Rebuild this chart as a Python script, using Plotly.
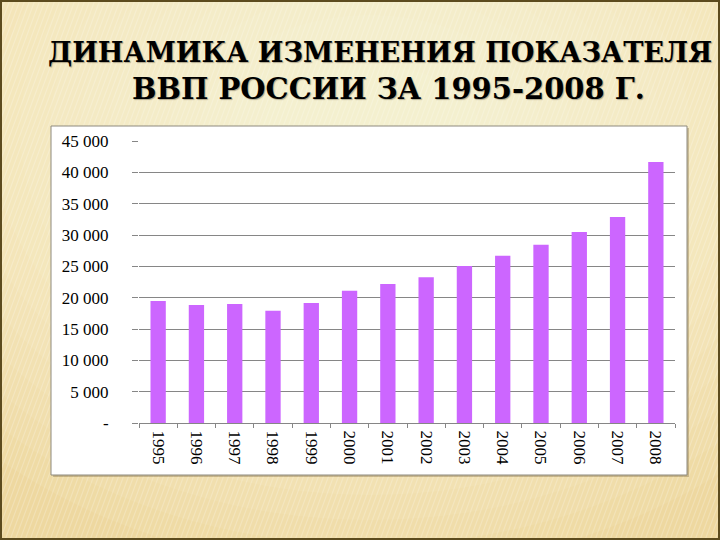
import plotly.graph_objects as go

years = ["1995", "1996", "1997", "1998", "1999", "2000", "2001",
         "2002", "2003", "2004", "2005", "2006", "2007", "2008"]
gdp = [19470, 18830, 18990, 17920, 19150, 21110, 22180,
       23250, 25050, 26700, 28450, 30470, 32870, 41650]
ytick_vals = [0, 5000, 10000, 15000, 20000, 25000, 30000, 35000, 40000, 45000]
ytick_text = ["-", "5 000", "10 000", "15 000", "20 000", "25 000",
              "30 000", "35 000", "40 000", "45 000"]
title_line1 = "ДИНАМИКА ИЗМЕНЕНИЯ ПОКАЗАТЕЛЯ"
title_line2 = "ВВП РОССИИ ЗА 1995-2008 Г."

W, H = 720, 540
L, R, T, B = 139, 675, 141, 423


def px(x):
    return (x - L) / (R - L)


def py(y):
    return (B - y) / (B - T)


shapes = []
# soft light glow in background (concentric translucent ellipses)
for i in range(16):
    rx = 560 - i * 30
    ry = 440 - i * 25
    cx, cy = 370, 130
    shapes.append(dict(type="circle", xref="paper", yref="paper",
                       x0=px(cx - rx), x1=px(cx + rx), y0=py(cy + ry), y1=py(cy - ry),
                       fillcolor="#FFF9E2", opacity=0.08, line=dict(width=0), layer="below"))
# faint diagonal stripe texture
segs = []
for x in range(-200, 760, 5):
    segs.append(f"M{px(x):.4f},{py(540):.4f} L{px(x + 200):.4f},{py(0):.4f}")
shapes.append(dict(type="path", xref="paper", yref="paper", path=" ".join(segs),
                   line=dict(color="rgba(255,255,255,0.22)", width=1.2), layer="below"))
# slide border
shapes.append(dict(type="rect", xref="paper", yref="paper",
                   x0=px(1), x1=px(719), y0=py(539), y1=py(1),
                   line=dict(color="#5C4B1E", width=2), fillcolor="rgba(0,0,0,0)", layer="above"))
# chart box shadow + box
shapes.append(dict(type="rect", xref="paper", yref="paper",
                   x0=px(53), x1=px(689), y0=py(477), y1=py(128),
                   line=dict(width=0), fillcolor="rgba(120,100,60,0.35)", layer="below"))
shapes.append(dict(type="rect", xref="paper", yref="paper",
                   x0=px(51), x1=px(687), y0=py(475), y1=py(126),
                   line=dict(color="#8E8A7E", width=1), fillcolor="white", layer="below"))

fig = go.Figure(go.Bar(x=years, y=gdp, marker=dict(color="#CC66FF", line=dict(width=0)),
                       width=0.4))

shadow = "1px 1px 1px rgba(90,80,60,0.45)"
annotations = [
    dict(text=title_line1, xref="paper", yref="paper", x=px(46), y=py(52),
         xanchor="left", yanchor="middle", showarrow=False,
         font=dict(family="DejaVu Serif", size=27.2, color="black", weight="bold", shadow=shadow)),
    dict(text=title_line2, xref="paper", yref="paper", x=px(388), y=py(89),
         xanchor="center", yanchor="middle", showarrow=False,
         font=dict(family="DejaVu Serif", size=29, color="black", weight="bold", shadow=shadow)),
]

fig.update_layout(
    width=W, height=H,
    margin=dict(l=L, r=W - R, t=T, b=H - B, pad=0),
    paper_bgcolor="#EED8A0",
    plot_bgcolor="rgba(0,0,0,0)",
    showlegend=False,
    shapes=shapes,
    annotations=annotations,
    bargap=0.6,
)
fig.update_xaxes(
    type="category", showgrid=False, showline=True, linecolor="#868686", linewidth=1,
    ticks="outside", tickson="boundaries", ticklen=4, tickcolor="#868686",
    tickangle=90, ticklabelstandoff=3,
    tickfont=dict(family="Liberation Serif", size=17, color="black"),
    fixedrange=True,
)
fig.update_yaxes(
    range=[0, 45000], tickvals=ytick_vals, ticktext=ytick_text,
    showgrid=True, gridcolor="#868686", gridwidth=1, zeroline=False, showline=False,
    ticks="outside", ticklen=6, tickcolor="#868686", ticklabelstandoff=20,
    tickfont=dict(family="Liberation Serif", size=17, color="black"),
    fixedrange=True,
)

fig.write_html("out.html", config={"displayModeBar": False},
               post_script="document.body.style.margin='0';document.body.style.overflow='hidden';")
